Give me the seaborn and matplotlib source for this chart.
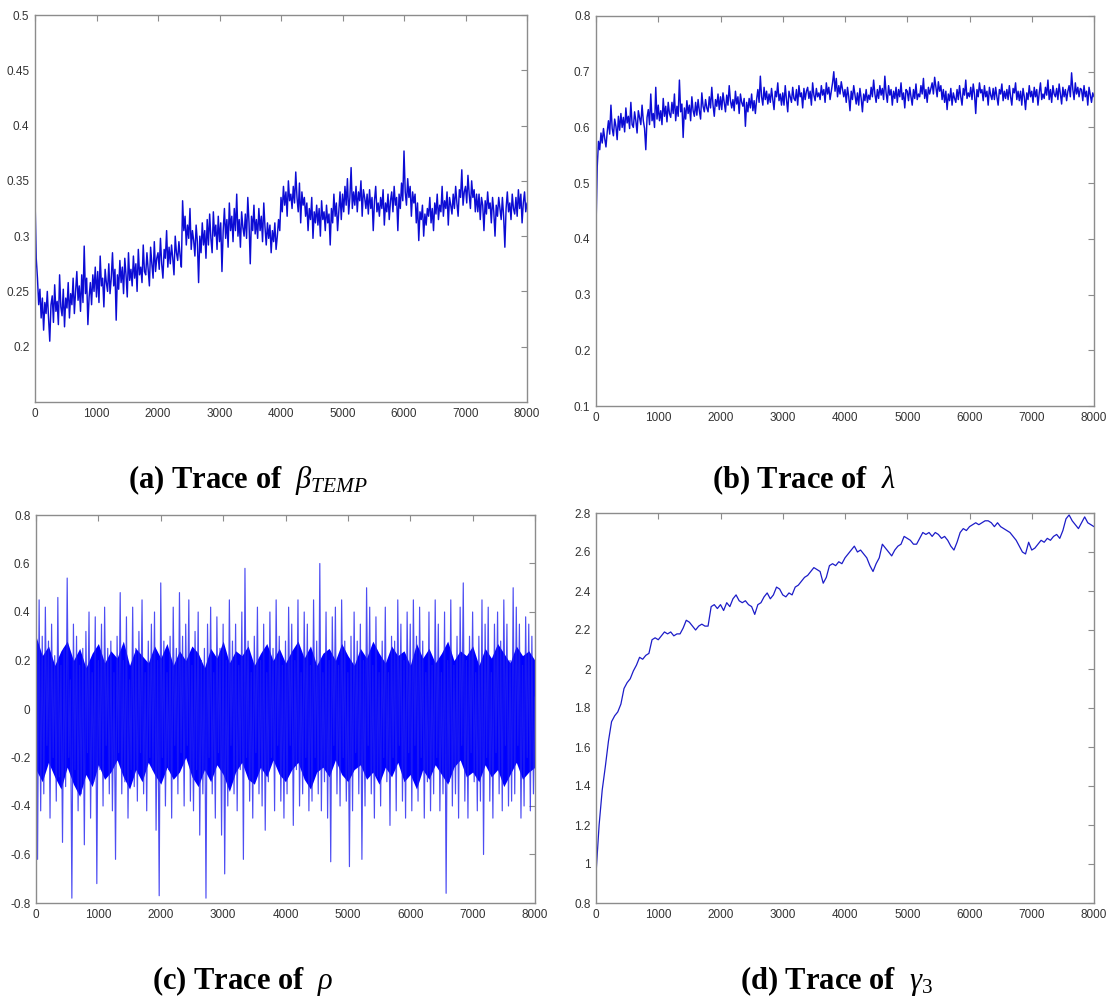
import numpy as np
import matplotlib
matplotlib.use("Agg")
import matplotlib.pyplot as plt
import seaborn as sns

# ---- MCMC traces over 8000 iterations (thinned samples) ----
beta_temp = [
    0.335, 0.280, 0.262, 0.238, 0.252, 0.226, 0.244, 0.215, 0.240, 0.230,
    0.250, 0.226, 0.205, 0.238, 0.246, 0.222, 0.256, 0.232, 0.241, 0.220,
    0.265, 0.236, 0.228, 0.252, 0.218, 0.244, 0.235, 0.258, 0.226, 0.248,
    0.238, 0.262, 0.230, 0.250, 0.268, 0.242, 0.255, 0.232, 0.265, 0.240,
    0.291, 0.248, 0.262, 0.220, 0.245, 0.258, 0.238, 0.265, 0.250, 0.272,
    0.245, 0.268, 0.240, 0.282, 0.255, 0.262, 0.236, 0.270, 0.258, 0.250,
    0.275, 0.248, 0.262, 0.285, 0.255, 0.270, 0.224, 0.265, 0.252, 0.278,
    0.258, 0.272, 0.248, 0.280, 0.265, 0.245, 0.285, 0.260, 0.270, 0.255,
    0.282, 0.262, 0.275, 0.250, 0.288, 0.265, 0.272, 0.258, 0.292, 0.268,
    0.265, 0.285, 0.270, 0.255, 0.290, 0.275, 0.262, 0.295, 0.268, 0.280,
    0.285, 0.270, 0.298, 0.275, 0.262, 0.288, 0.280, 0.305, 0.272, 0.290,
    0.275, 0.292, 0.280, 0.265, 0.300, 0.285, 0.278, 0.295, 0.282, 0.272,
    0.332, 0.305, 0.318, 0.292, 0.310, 0.298, 0.325, 0.288, 0.305, 0.296,
    0.282, 0.310, 0.295, 0.258, 0.300, 0.285, 0.312, 0.292, 0.305, 0.280,
    0.315, 0.292, 0.320, 0.298, 0.285, 0.322, 0.300, 0.310, 0.288, 0.318,
    0.295, 0.312, 0.268, 0.305, 0.325, 0.298, 0.315, 0.290, 0.330, 0.305,
    0.318, 0.295, 0.325, 0.305, 0.338, 0.300, 0.315, 0.290, 0.322, 0.308,
    0.300, 0.320, 0.298, 0.335, 0.312, 0.275, 0.318, 0.305, 0.328, 0.302,
    0.315, 0.298, 0.325, 0.305, 0.318, 0.295, 0.330, 0.308, 0.292, 0.312,
    0.298, 0.310, 0.285, 0.305, 0.295, 0.312, 0.288, 0.300, 0.315, 0.305,
    0.335, 0.322, 0.345, 0.328, 0.340, 0.318, 0.350, 0.332, 0.338, 0.325,
    0.345, 0.330, 0.358, 0.335, 0.322, 0.348, 0.312, 0.340, 0.328, 0.335,
    0.318, 0.330, 0.305, 0.325, 0.315, 0.335, 0.298, 0.322, 0.312, 0.328,
    0.310, 0.325, 0.300, 0.332, 0.315, 0.322, 0.305, 0.328, 0.312, 0.320,
    0.292, 0.325, 0.312, 0.338, 0.318, 0.330, 0.305, 0.322, 0.340, 0.315,
    0.338, 0.322, 0.345, 0.328, 0.352, 0.320, 0.335, 0.362, 0.325, 0.340,
    0.328, 0.345, 0.322, 0.340, 0.332, 0.350, 0.318, 0.342, 0.335, 0.325,
    0.338, 0.320, 0.342, 0.325, 0.335, 0.305, 0.332, 0.345, 0.322, 0.330,
    0.318, 0.335, 0.325, 0.342, 0.310, 0.330, 0.322, 0.338, 0.315, 0.332,
    0.340, 0.322, 0.345, 0.328, 0.335, 0.305, 0.338, 0.325, 0.348, 0.332,
    0.377, 0.340, 0.328, 0.352, 0.335, 0.345, 0.318, 0.340, 0.330, 0.338,
    0.312, 0.330, 0.296, 0.322, 0.315, 0.328, 0.300, 0.320, 0.310, 0.325,
    0.318, 0.335, 0.312, 0.325, 0.305, 0.330, 0.320, 0.338, 0.315, 0.328,
    0.322, 0.345, 0.318, 0.332, 0.325, 0.340, 0.310, 0.335, 0.328, 0.320,
    0.338, 0.325, 0.345, 0.330, 0.318, 0.342, 0.335, 0.360, 0.328, 0.340,
    0.345, 0.330, 0.355, 0.338, 0.325, 0.350, 0.335, 0.342, 0.322, 0.338,
    0.322, 0.338, 0.315, 0.335, 0.328, 0.305, 0.332, 0.320, 0.340, 0.325,
    0.330, 0.312, 0.335, 0.322, 0.300, 0.328, 0.318, 0.335, 0.325, 0.315,
    0.335, 0.318, 0.290, 0.325, 0.340, 0.322, 0.330, 0.315, 0.338, 0.325,
    0.320, 0.335, 0.318, 0.342, 0.325, 0.338, 0.312, 0.330, 0.340, 0.322,
    0.330,
]

lam = [
    0.420, 0.530, 0.575, 0.560, 0.590, 0.572, 0.598, 0.580, 0.565, 0.592,
    0.612, 0.588, 0.640, 0.598, 0.585, 0.615, 0.602, 0.578, 0.620, 0.595,
    0.625, 0.600, 0.618, 0.592, 0.635, 0.608, 0.620, 0.598, 0.645, 0.605,
    0.600, 0.628, 0.612, 0.590, 0.630, 0.618, 0.605, 0.640, 0.612, 0.598,
    0.560, 0.618, 0.632, 0.605, 0.660, 0.612, 0.625, 0.600, 0.672, 0.615,
    0.640, 0.612, 0.630, 0.605, 0.652, 0.620, 0.638, 0.610, 0.645, 0.625,
    0.618, 0.645, 0.625, 0.660, 0.612, 0.638, 0.620, 0.685, 0.628, 0.642,
    0.582, 0.635, 0.615, 0.648, 0.625, 0.640, 0.612, 0.655, 0.630, 0.620,
    0.645, 0.622, 0.650, 0.630, 0.615, 0.662, 0.638, 0.628, 0.650, 0.635,
    0.628, 0.655, 0.635, 0.672, 0.640, 0.620, 0.650, 0.638, 0.660, 0.632,
    0.655, 0.632, 0.662, 0.645, 0.628, 0.658, 0.640, 0.675, 0.648, 0.635,
    0.650, 0.630, 0.665, 0.642, 0.655, 0.625, 0.660, 0.645, 0.638, 0.652,
    0.602, 0.645, 0.628, 0.652, 0.635, 0.660, 0.630, 0.648, 0.625, 0.650,
    0.668, 0.645, 0.692, 0.655, 0.640, 0.672, 0.650, 0.665, 0.642, 0.660,
    0.645, 0.670, 0.650, 0.632, 0.665, 0.655, 0.680, 0.648, 0.660, 0.640,
    0.662, 0.640, 0.675, 0.650, 0.628, 0.665, 0.655, 0.645, 0.672, 0.652,
    0.648, 0.668, 0.640, 0.675, 0.655, 0.662, 0.635, 0.670, 0.650, 0.665,
    0.672, 0.652, 0.665, 0.640, 0.680, 0.658, 0.648, 0.670, 0.655, 0.662,
    0.650, 0.675, 0.658, 0.668, 0.645, 0.680, 0.660, 0.672, 0.650, 0.665,
    0.680, 0.700, 0.665, 0.688, 0.655, 0.675, 0.660, 0.682, 0.668, 0.655,
    0.668, 0.645, 0.672, 0.655, 0.630, 0.665, 0.650, 0.675, 0.658, 0.642,
    0.662, 0.640, 0.670, 0.652, 0.628, 0.660, 0.648, 0.668, 0.645, 0.658,
    0.650, 0.672, 0.655, 0.685, 0.660, 0.645, 0.668, 0.652, 0.675, 0.658,
    0.670, 0.650, 0.692, 0.662, 0.645, 0.675, 0.658, 0.668, 0.640, 0.665,
    0.652, 0.672, 0.645, 0.668, 0.655, 0.680, 0.650, 0.662, 0.635, 0.668,
    0.665, 0.648, 0.672, 0.655, 0.640, 0.668, 0.652, 0.678, 0.650, 0.660,
    0.655, 0.675, 0.660, 0.688, 0.652, 0.668, 0.645, 0.672, 0.660, 0.670,
    0.680, 0.660, 0.690, 0.672, 0.655, 0.682, 0.665, 0.675, 0.650, 0.668,
    0.645, 0.665, 0.632, 0.660, 0.648, 0.670, 0.640, 0.662, 0.652, 0.645,
    0.668, 0.650, 0.675, 0.655, 0.640, 0.670, 0.658, 0.685, 0.652, 0.662,
    0.655, 0.672, 0.650, 0.678, 0.660, 0.625, 0.668, 0.655, 0.680, 0.662,
    0.668, 0.648, 0.675, 0.655, 0.665, 0.640, 0.672, 0.658, 0.650, 0.670,
    0.650, 0.672, 0.655, 0.640, 0.668, 0.660, 0.678, 0.648, 0.665, 0.652,
    0.668, 0.650, 0.675, 0.655, 0.640, 0.670, 0.662, 0.680, 0.650, 0.665,
    0.648, 0.665, 0.640, 0.670, 0.655, 0.632, 0.662, 0.650, 0.675, 0.655,
    0.665, 0.645, 0.672, 0.655, 0.668, 0.640, 0.662, 0.680, 0.650, 0.660,
    0.652, 0.672, 0.658, 0.685, 0.650, 0.668, 0.645, 0.675, 0.660, 0.655,
    0.670, 0.650, 0.678, 0.660, 0.642, 0.672, 0.655, 0.668, 0.648, 0.665,
    0.675, 0.655, 0.698, 0.668, 0.650, 0.680, 0.660, 0.672, 0.655, 0.670,
    0.668, 0.648, 0.675, 0.655, 0.665, 0.640, 0.672, 0.658, 0.645, 0.662,
    0.655,
]

rho = [
    0.640, -0.620, 0.450, -0.420, 0.300, -0.350, 0.420, -0.150, 0.280, -0.450, 0.350, -0.200, 0.220, -0.380, 0.460, -0.280,
    0.180, -0.550, 0.250, -0.320, 0.540, -0.200, 0.120, -0.780, 0.350, -0.250, 0.300, -0.420, 0.180, -0.350, 0.250, -0.560,
    0.320, -0.180, 0.400, -0.450, 0.150, -0.300, 0.380, -0.720, 0.200, -0.250, 0.350, -0.400, 0.420, -0.150, 0.250, -0.350,
    0.280, -0.420, 0.150, -0.620, 0.300, -0.180, 0.480, -0.350, 0.200, -0.300, 0.380, -0.450, 0.120, -0.250, 0.420, -0.320,
    0.250, -0.380, 0.320, -0.180, 0.450, -0.350, 0.150, -0.420, 0.280, -0.200, 0.350, -0.250, 0.400, -0.500, 0.200, -0.770,
    0.520, -0.200, 0.280, -0.400, 0.150, -0.250, 0.300, -0.450, 0.420, -0.150, 0.250, -0.350, 0.480, -0.180, 0.300, -0.400,
    0.350, -0.150, 0.450, -0.380, 0.180, -0.420, 0.320, -0.250, 0.400, -0.520, 0.200, -0.350, 0.250, -0.780, 0.350, -0.200,
    0.420, -0.350, 0.150, -0.450, 0.380, -0.180, 0.250, -0.520, 0.350, -0.680, 0.200, -0.400, 0.450, -0.150, 0.280, -0.350,
    0.350, -0.420, 0.180, -0.250, 0.400, -0.620, 0.580, -0.200, 0.280, -0.380, 0.150, -0.450, 0.300, -0.180, 0.420, -0.350,
    0.200, -0.400, 0.350, -0.500, 0.150, -0.300, 0.400, -0.200, 0.250, -0.420, 0.450, -0.150, 0.300, -0.380, 0.180, -0.450,
    0.280, -0.350, 0.420, -0.150, 0.350, -0.480, 0.200, -0.250, 0.450, -0.400, 0.150, -0.350, 0.400, -0.200, 0.350, -0.420,
    0.180, -0.380, 0.450, -0.200, 0.280, -0.350, 0.600, -0.420, 0.150, -0.300, 0.400, -0.450, 0.200, -0.630, 0.380, -0.150,
    0.420, -0.350, 0.180, -0.400, 0.450, -0.200, 0.280, -0.380, 0.150, -0.650, 0.300, -0.420, 0.400, -0.180, 0.280, -0.350,
    0.350, -0.620, 0.200, -0.400, 0.500, -0.150, 0.420, -0.350, 0.180, -0.450, 0.380, -0.280, 0.150, -0.400, 0.280, -0.200,
    0.420, -0.300, 0.150, -0.480, 0.300, -0.200, 0.280, -0.420, 0.450, -0.150, 0.350, -0.380, 0.200, -0.450, 0.400, -0.180,
    0.350, -0.420, 0.450, -0.150, 0.300, -0.380, 0.420, -0.200, 0.280, -0.450, 0.150, -0.300, 0.400, -0.420, 0.180, -0.350,
    0.450, -0.200, 0.350, -0.420, 0.150, -0.350, 0.400, -0.760, 0.200, -0.300, 0.450, -0.400, 0.180, -0.350, 0.300, -0.450,
    0.420, -0.150, 0.520, -0.380, 0.200, -0.450, 0.300, -0.180, 0.400, -0.300, 0.150, -0.420, 0.300, -0.380, 0.450, -0.600,
    0.350, -0.200, 0.420, -0.380, 0.150, -0.450, 0.350, -0.180, 0.400, -0.350, 0.280, -0.420, 0.450, -0.150, 0.350, -0.400,
    0.200, -0.380, 0.500, -0.350, 0.420, -0.150, 0.350, -0.450, 0.180, -0.400, 0.380, -0.200, 0.350, -0.420, 0.300, -0.350,
    0.050,
]

# Solid central region of the rho chain (every 100 iterations): lower / upper edge
rho_core_lo = [-0.25, -0.30, -0.22, -0.28, -0.33, -0.24, -0.31, -0.36, -0.27, -0.32,
               -0.23, -0.29, -0.26, -0.21, -0.28, -0.33, -0.25, -0.30, -0.22, -0.27,
               -0.31, -0.24, -0.29, -0.26, -0.20, -0.28, -0.32, -0.25, -0.30, -0.23,
               -0.27, -0.34, -0.26, -0.22, -0.29, -0.31, -0.24, -0.28, -0.21, -0.27,
               -0.30, -0.25, -0.22, -0.29, -0.33, -0.26, -0.24, -0.28, -0.21, -0.27,
               -0.30, -0.25, -0.23, -0.29, -0.26, -0.31, -0.24, -0.28, -0.22, -0.30,
               -0.27, -0.33, -0.25, -0.29, -0.23, -0.27, -0.31, -0.24, -0.21, -0.28,
               -0.26, -0.30, -0.23, -0.28, -0.25, -0.32, -0.27, -0.22, -0.29, -0.26,
               -0.24]
rho_core_hi = [0.30, 0.22, 0.26, 0.18, 0.24, 0.28, 0.20, 0.25, 0.17, 0.23,
               0.27, 0.19, 0.24, 0.21, 0.28, 0.18, 0.25, 0.22, 0.19, 0.26,
               0.21, 0.27, 0.18, 0.24, 0.20, 0.26, 0.23, 0.17, 0.25, 0.21,
               0.28, 0.19, 0.24, 0.22, 0.26, 0.18, 0.23, 0.27, 0.20, 0.25,
               0.19, 0.24, 0.28, 0.21, 0.26, 0.18, 0.23, 0.25, 0.20, 0.27,
               0.22, 0.18, 0.25, 0.21, 0.28, 0.23, 0.19, 0.26, 0.22, 0.24,
               0.18, 0.27, 0.21, 0.25, 0.19, 0.23, 0.28, 0.20, 0.24, 0.22,
               0.26, 0.18, 0.25, 0.21, 0.27, 0.23, 0.19, 0.26, 0.22, 0.24,
               0.20]

gamma3 = [
    0.95, 1.20, 1.38, 1.50, 1.63, 1.73, 1.76, 1.78, 1.82, 1.90,
    1.93, 1.95, 1.99, 2.02, 2.06, 2.05, 2.07, 2.08, 2.15, 2.16,
    2.15, 2.17, 2.19, 2.18, 2.19, 2.17, 2.18, 2.18, 2.21, 2.25,
    2.24, 2.22, 2.20, 2.22, 2.23, 2.22, 2.22, 2.32, 2.33, 2.31,
    2.33, 2.30, 2.34, 2.32, 2.36, 2.38, 2.35, 2.34, 2.35, 2.33,
    2.32, 2.28, 2.33, 2.34, 2.37, 2.39, 2.36, 2.38, 2.42, 2.41,
    2.38, 2.37, 2.39, 2.38, 2.42, 2.43, 2.45, 2.47, 2.48, 2.50,
    2.52, 2.51, 2.50, 2.44, 2.47, 2.53, 2.54, 2.53, 2.55, 2.54,
    2.57, 2.59, 2.61, 2.63, 2.60, 2.61, 2.59, 2.57, 2.53, 2.50,
    2.54, 2.57, 2.64, 2.62, 2.60, 2.58, 2.61, 2.63, 2.64, 2.68,
    2.67, 2.66, 2.64, 2.64, 2.67, 2.70, 2.69, 2.70, 2.68, 2.70,
    2.69, 2.67, 2.68, 2.66, 2.63, 2.61, 2.65, 2.70, 2.72, 2.71,
    2.73, 2.74, 2.75, 2.74, 2.75, 2.76, 2.76, 2.75, 2.73, 2.75,
    2.73, 2.72, 2.71, 2.70, 2.68, 2.66, 2.63, 2.60, 2.59, 2.65,
    2.61, 2.62, 2.64, 2.66, 2.65, 2.67, 2.66, 2.68, 2.69, 2.67,
    2.71, 2.77, 2.79, 2.76, 2.74, 2.72, 2.75, 2.78, 2.75, 2.74,
    2.73,
]

n_iter = 8000
x_ticks = [0, 1000, 2000, 3000, 4000, 5000, 6000, 7000, 8000]

yticks_a = [0.2, 0.25, 0.3, 0.35, 0.4, 0.45, 0.5]
yticks_b = [0.1, 0.2, 0.3, 0.4, 0.5, 0.6, 0.7, 0.8]
yticks_c = [-0.8, -0.6, -0.4, -0.2, 0, 0.2, 0.4, 0.6, 0.8]
yticks_d = [0.8, 1, 1.2, 1.4, 1.6, 1.8, 2, 2.2, 2.4, 2.6, 2.8]

captions = [
    r"(a) Trace of  $\beta_{TEMP}$",
    r"(b) Trace of  $\lambda$",
    r"(c) Trace of  $\rho$",
    r"(d) Trace of  $\gamma_3$",
]

# ---- styling ----
sns.set_style("white")
plt.rcParams["font.family"] = ["Liberation Sans", "DejaVu Sans"]
plt.rcParams["mathtext.fontset"] = "custom"
plt.rcParams["mathtext.rm"] = "Liberation Serif"
plt.rcParams["mathtext.it"] = "Liberation Serif:italic"
plt.rcParams["mathtext.bf"] = "Liberation Serif:bold"

W, H = 1110, 997
fig = plt.figure(figsize=(W / 100, H / 100), dpi=100)
fig.patch.set_facecolor("white")


def box(left, top, right, bottom):
    """Axes rectangle in figure fractions from pixel edges."""
    return [left / W, 1 - bottom / H, (right - left) / W, (bottom - top) / H]


panels = [
    dict(values=beta_temp, core=None, yticks=yticks_a,
         ylim=(0.15, 0.5), rect=box(35, 15, 527, 402), lw=1.05,
         line_color="#0c0cd4", alpha=1.0),
    dict(values=lam, core=None, yticks=yticks_b,
         ylim=(0.1, 0.8), rect=box(596, 16, 1094, 406), lw=1.05,
         line_color="#0c0cd4", alpha=1.0),
    dict(values=rho, core=(rho_core_lo, rho_core_hi), yticks=yticks_c,
         ylim=(-0.8, 0.8), rect=box(36, 515, 535, 903), lw=0.85,
         line_color="#2020f0", alpha=0.8),
    dict(values=gamma3, core=None, yticks=yticks_d,
         ylim=(0.8, 2.8), rect=box(596, 513, 1094, 903), lw=0.9,
         line_color="#1c1cc8", alpha=1.0),
]

frame_grey = "#8c8c8c"
for p in panels:
    ax = fig.add_axes(p["rect"])
    if p["core"] is not None:
        lo, hi = p["core"]
        core_x = np.linspace(0, n_iter, len(lo))
        ax.fill_between(core_x, lo, hi, color="#0000ff", linewidth=0)
    iters = np.linspace(0, n_iter, len(p["values"]))
    sns.lineplot(x=iters, y=p["values"], ax=ax, color=p["line_color"],
                 linewidth=p["lw"], alpha=p["alpha"], sort=False, estimator=None)
    ax.set_xlim(0, n_iter)
    ax.set_ylim(*p["ylim"])
    ax.set_xticks(x_ticks)
    ax.set_xticklabels([f"{t:g}" for t in x_ticks])
    ax.set_yticks(p["yticks"])
    ax.set_yticklabels([f"{t:g}" for t in p["yticks"]])
    ax.set_xlabel("")
    ax.set_ylabel("")
    for sp in ax.spines.values():
        sp.set_visible(True)
        sp.set_color(frame_grey)
        sp.set_linewidth(1.0)
    ax.tick_params(direction="in", top=True, right=True, length=4, width=0.8,
                   color=frame_grey, labelsize=8.5, labelcolor="#333333")
    ax.tick_params(axis="both", pad=4)

# captions under each panel
cap_pos = [(128, 488), (712, 488), (152, 989), (740, 989)]
for text, (px, py) in zip(captions, cap_pos):
    fig.text(px / W, 1 - py / H, text, ha="left", va="baseline",
             fontsize=22, fontweight="bold",
             family=["Liberation Serif", "DejaVu Serif"], color="black")

fig.savefig("out.png", dpi=100, facecolor="white")
